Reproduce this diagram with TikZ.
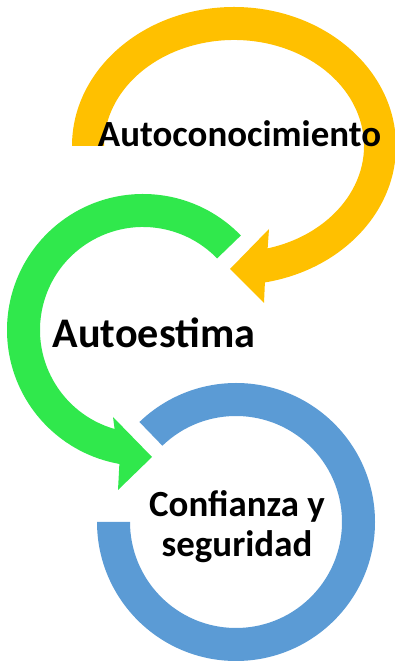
\documentclass[tikz,border=0pt]{standalone}
\usepackage{fontspec}
\setmainfont{Carlito}
\usetikzlibrary{calc}
\definecolor{amarillo}{RGB}{255,192,0}
\definecolor{verde}{RGB}{48,232,76}
\definecolor{azul}{RGB}{91,155,213}

\begin{document}
\begin{tikzpicture}[x=0.2mm, y=0.2mm, lbl/.style = {font=\bfseries\fontsize{21}{22.8}\selectfont, inner sep=0pt, align=center}]
	\useasboundingbox (0,0) rectangle (395,662);
	\coordinate (yc) at (234,516);
	\coordinate (gc) at (143,332);
	\coordinate (bc) at (236,140);
	% anillo azul
	\fill[azul] ($(bc)+(180:139)$) arc[start angle=180, end angle=494, radius=139] -- ($(bc)+(134:106)$) arc[start angle=494, end angle=180, radius=106] -- cycle;
	% flecha verde
	\fill[verde] ($(gc)+(44:136)$) arc[start angle=44, end angle=260, radius=136] -- (118,172) -- (152,205) -- (113,245) -- ($(gc)+(254:103)$) arc[start angle=254, end angle=44, radius=103] -- cycle;
	% flecha amarilla
	\fill[amarillo] ($(yc)+(180:162 and 139)$) arc[start angle=180, end angle=-79, x radius=162, y radius=139] -- (264,359) -- (230,393) -- (269,433) -- ($(yc)+(-75:130 and 106)$) arc[start angle=-75, end angle=180, x radius=130, y radius=106] -- cycle;
	\node[lbl, anchor=base] (auto1) at (239.5,515) {Autoconocimiento};
	\node[lbl, anchor=base, font=\bfseries\fontsize{24}{26}\selectfont] (auto2) at (154,314) {Autoestima};
	\node[lbl] (conf) at (237,135) {Confianza y\\seguridad};
\end{tikzpicture}
\end{document}
